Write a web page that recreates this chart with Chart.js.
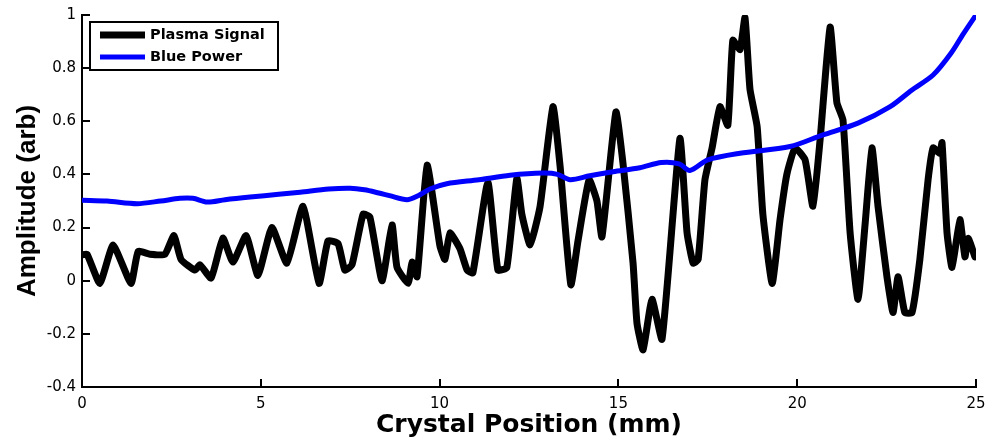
<!DOCTYPE html>
<html>
<head>
<meta charset="utf-8">
<script src="https://cdn.jsdelivr.net/npm/chart.js@4.4.1/dist/chart.umd.min.js"></script>
<style>
  html, body { margin: 0; padding: 0; background: #fff; }
  #wrap { width: 987px; height: 440px; }
</style>
</head>
<body>
<div id="wrap"><canvas id="plot" width="987" height="440"></canvas></div>
<script>
// plasma signal (position mm, amplitude)
const plasmaX = [0, 0.14, 0.5, 0.87, 1.37, 1.57, 1.9, 2.32, 2.57, 2.77, 3.16, 3.3, 3.61, 3.94, 4.22, 4.59, 4.92,
  5.31, 5.73, 6.18, 6.63, 6.88, 7.16, 7.35, 7.55, 7.86, 8.05, 8.39, 8.67, 8.81, 9.12, 9.23, 9.37, 9.65,
  10.01, 10.15, 10.29, 10.57, 10.77, 10.93, 11.35, 11.63, 11.88, 12.16, 12.3, 12.53, 12.81, 13.17, 13.37,
  13.67, 13.87, 14.18, 14.4, 14.54, 14.93, 15.13, 15.41, 15.52, 15.69, 15.94, 16.22, 16.72, 16.92, 17.09,
  17.23, 17.42, 17.62, 17.84, 18.06, 18.2, 18.4, 18.54, 18.68, 18.88, 19.04, 19.3, 19.52, 19.71, 19.94,
  20.22, 20.44, 20.64, 20.92, 21.11, 21.28, 21.48, 21.7, 21.9, 22.09, 22.26, 22.51, 22.68, 22.82, 23.01,
  23.21, 23.43, 23.66, 23.8, 23.99, 24.05, 24.19, 24.33, 24.55, 24.69, 24.78, 24.97];
const plasmaY = [0.097, 0.10, -0.01, 0.134, -0.01, 0.11, 0.10, 0.10, 0.17, 0.08, 0.04, 0.06, 0.01, 0.16, 0.07, 0.17, 0.02,
  0.20, 0.066, 0.28, -0.01, 0.15, 0.14, 0.04, 0.06, 0.25, 0.24, 0.0, 0.21, 0.05, -0.01, 0.07, 0.015, 0.435,
  0.13, 0.08, 0.18, 0.12, 0.04, 0.03, 0.37, 0.04, 0.05, 0.385, 0.25, 0.135, 0.28, 0.655, 0.43,
  -0.015, 0.15, 0.38, 0.30, 0.165, 0.635, 0.44, 0.066, -0.16, -0.26, -0.07, -0.22, 0.535, 0.18, 0.066,
  0.08, 0.38, 0.50, 0.655, 0.585, 0.905, 0.87, 0.99, 0.72, 0.58, 0.25, -0.01, 0.23, 0.40, 0.50,
  0.455, 0.28, 0.53, 0.955, 0.67, 0.605, 0.18, -0.07, 0.215, 0.50, 0.28, 0.015, -0.12, 0.015, -0.12,
  -0.12, 0.08, 0.38, 0.50, 0.48, 0.52, 0.18, 0.05, 0.23, 0.09, 0.16, 0.09];

// blue power
const blueX = [0, 0.7, 1.54, 2.2, 2.74, 3.1, 3.5, 4.0, 4.7, 5.5, 6.1, 6.9, 7.5, 7.9, 8.3, 8.6, 9.09, 9.4, 9.73,
  10.2, 11.1, 11.97, 12.9, 13.3, 13.65, 14.2, 14.85, 15.6, 16.2, 16.7, 17.0, 17.5, 18.4, 19.8, 20.7, 21.7,
  22.6, 23.2, 23.8, 24.3, 24.65, 25];
const blueY = [0.303, 0.30, 0.29, 0.30, 0.31, 0.31, 0.296, 0.305, 0.315, 0.325, 0.333, 0.345, 0.348, 0.342, 0.33, 0.32, 0.305, 0.32, 0.345,
  0.365, 0.38, 0.397, 0.405, 0.40, 0.38, 0.395, 0.41, 0.425, 0.445, 0.44, 0.415, 0.455, 0.48, 0.505, 0.548, 0.593,
  0.655, 0.717, 0.774, 0.856, 0.93, 1.0];

const xTicks = [0, 5, 10, 15, 20, 25];
const yTicks = [-0.4, -0.2, 0, 0.2, 0.4, 0.6, 0.8, 1];

const pts = (xs, ys) => xs.map((x, i) => ({ x: x, y: ys[i] }));

// matlab style: ticks pointing into the plot
const innerTicks = {
    id: 'innerTicks',
    afterDatasetsDraw(chart) {
        const { ctx, chartArea: a, scales: { x, y } } = chart;
        ctx.save();
        ctx.strokeStyle = '#000';
        ctx.lineWidth = 2;
        ctx.beginPath();
        yTicks.forEach(v => {
            const py = Math.round(y.getPixelForValue(v));
            ctx.moveTo(a.left, py);
            ctx.lineTo(a.left + 8, py);
        });
        xTicks.forEach(v => {
            const px = Math.round(x.getPixelForValue(v));
            ctx.moveTo(px, a.bottom);
            ctx.lineTo(px, a.bottom - 8);
        });
        ctx.stroke();
        ctx.restore();
    }
};

// legend box in the top left corner of the axes
const boxLegend = {
    id: 'boxLegend',
    afterDraw(chart) {
        const ctx = chart.ctx;
        const sets = chart.data.datasets;
        const left = 90, top = 22, w = 188, h = 48;
        ctx.save();
        ctx.fillStyle = '#fff';
        ctx.fillRect(left, top, w, h);
        ctx.strokeStyle = '#000';
        ctx.lineWidth = 2;
        ctx.strokeRect(left, top, w, h);
        ctx.font = 'bold 14.5px "DejaVu Sans"';
        ctx.textBaseline = 'middle';
        sets.forEach((ds, i) => {
            const yy = top + 13 + i * 22;
            ctx.strokeStyle = ds.borderColor;
            ctx.lineWidth = ds.borderWidth;
            ctx.beginPath();
            ctx.moveTo(left + 10, yy);
            ctx.lineTo(left + 55, yy);
            ctx.stroke();
            ctx.fillStyle = '#000';
            ctx.fillText(ds.label, left + 60, yy);
        });
        ctx.restore();
    }
};

new Chart(document.getElementById('plot'), {
    type: 'line',
    data: {
        datasets: [{
            label: 'Plasma Signal',
            data: pts(plasmaX, plasmaY),
            borderColor: '#000000',
            borderWidth: 7,
            borderJoinStyle: 'round',
            borderCapStyle: 'round',
            pointRadius: 0,
            tension: 0.15,
            order: 1
        }, {
            label: 'Blue Power',
            data: pts(blueX, blueY),
            borderColor: '#0000ff',
            borderWidth: 5,
            borderJoinStyle: 'round',
            pointRadius: 0,
            tension: 0.3,
            order: 0
        }]
    },
    options: {
        responsive: false,
        animation: false,
        layout: { padding: { left: 0, top: 15, right: 11, bottom: 0 } },
        plugins: {
            legend: { display: false },
            tooltip: { enabled: false }
        },
        scales: {
            x: {
                type: 'linear',
                min: 0,
                max: 25,
                afterBuildTicks: s => { s.ticks = xTicks.map(v => ({ value: v })); },
                afterFit: s => { s.height = 53; s.paddingLeft = 0; s.paddingRight = 0; },
                grid: { display: false, drawTicks: false },
                border: { display: true, color: '#000', width: 2 },
                ticks: {
                    padding: 8,
                    color: '#000',
                    font: { family: 'DejaVu Sans', size: 15 },
                    maxRotation: 0
                },
                title: {
                    display: true,
                    text: 'Crystal Position (mm)',
                    color: '#000',
                    font: { family: 'DejaVu Sans', size: 25, weight: 'bold' },
                    padding: { top: 0, bottom: 0 }
                }
            },
            y: {
                min: -0.4,
                max: 1,
                afterBuildTicks: s => { s.ticks = yTicks.map(v => ({ value: v })); },
                afterFit: s => { s.width = 82; s.paddingTop = 0; s.paddingBottom = 0; },
                grid: { display: false, drawTicks: false },
                border: { display: true, color: '#000', width: 2 },
                ticks: {
                    padding: 6,
                    color: '#000',
                    font: { family: 'DejaVu Sans', size: 15 },
                    callback: v => String(Math.round(v * 10) / 10)
                },
                title: {
                    display: true,
                    text: 'Amplitude (arb)',
                    color: '#000',
                    font: { family: 'Liberation Sans', size: 26, weight: 'bold' },
                    padding: { top: 12, bottom: 0 }
                }
            }
        }
    },
    plugins: [innerTicks, boxLegend]
});
</script>
</body>
</html>
